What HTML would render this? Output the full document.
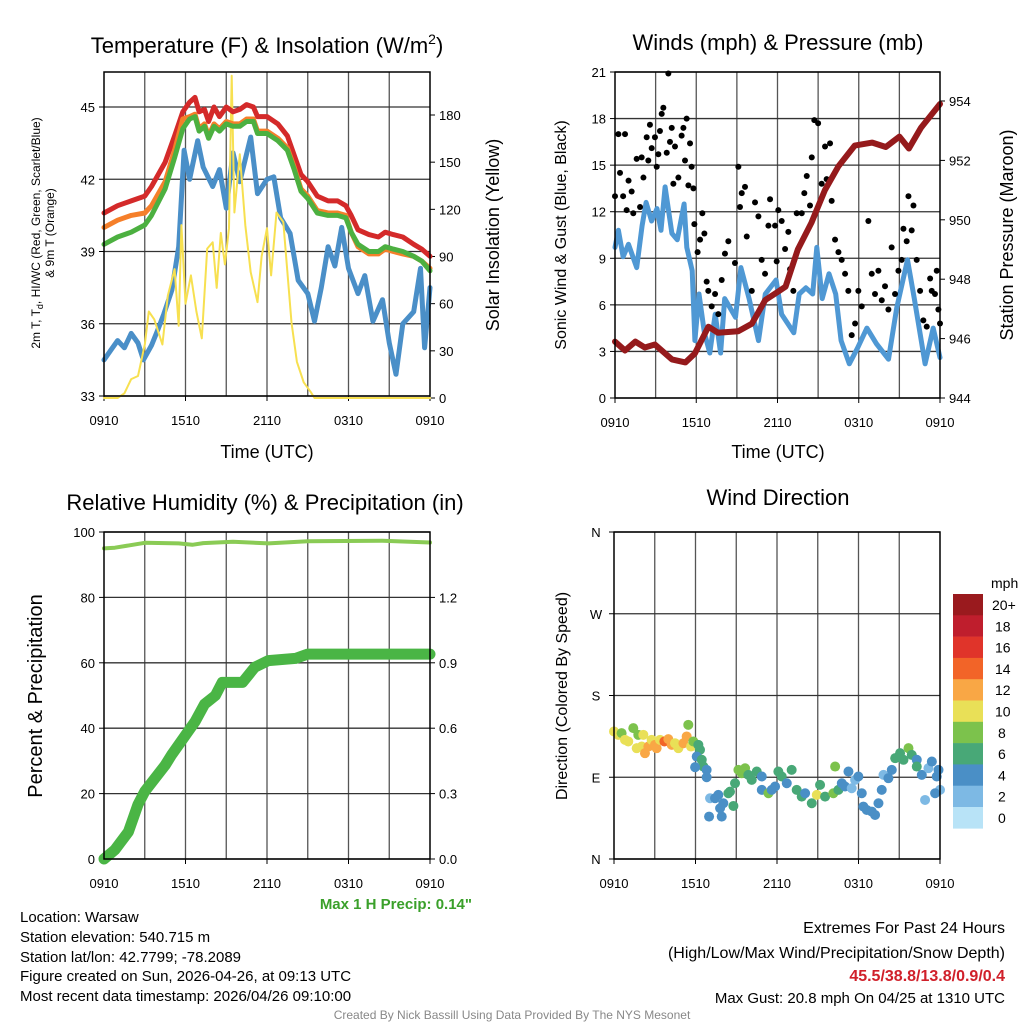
<!DOCTYPE html>
<html><head><meta charset="utf-8">
<style>
html,body{margin:0;padding:0;background:#fff;}
svg{display:block;font-family:"Liberation Sans",Arial,sans-serif;}
</style></head>
<body>
<svg id="chart" width="1024" height="1024" viewBox="0 0 1024 1024" xmlns="http://www.w3.org/2000/svg">
<rect width="1024" height="1024" fill="#fff"/>
<g id="layer"></g>
<!-- titles -->
<text x="267" y="53" font-size="22" text-anchor="middle">Temperature (F) &amp; Insolation (W/m<tspan font-size="14" dy="-9">2</tspan><tspan dy="9">)</tspan></text>
<text x="778" y="50" font-size="22" text-anchor="middle">Winds (mph) &amp; Pressure (mb)</text>
<text x="265" y="510" font-size="22" text-anchor="middle">Relative Humidity (%) &amp; Precipitation (in)</text>
<text x="778" y="505" font-size="22" text-anchor="middle">Wind Direction</text>
<!-- axis titles -->
<text transform="translate(40,233) rotate(-90)" font-size="12" text-anchor="middle">2m T, T<tspan font-size="9" dy="3">d</tspan><tspan dy="-3">, HI/WC (Red, Green, Scarlet/Blue)</tspan></text>
<text transform="translate(54,233) rotate(-90)" font-size="12" text-anchor="middle">&amp; 9m T (Orange)</text>
<text transform="translate(499,235) rotate(-90)" font-size="18" text-anchor="middle">Solar Insolation (Yellow)</text>
<text x="267" y="458" font-size="18" text-anchor="middle">Time (UTC)</text>
<text transform="translate(566,235) rotate(-90)" font-size="16" text-anchor="middle">Sonic Wind &amp; Gust (Blue, Black)</text>
<text transform="translate(1013,235) rotate(-90)" font-size="18" text-anchor="middle">Station Pressure (Maroon)</text>
<text x="778" y="458" font-size="18" text-anchor="middle">Time (UTC)</text>
<text transform="translate(42,696) rotate(-90)" font-size="20" text-anchor="middle">Percent &amp; Precipitation</text>
<text transform="translate(567,696) rotate(-90)" font-size="16" text-anchor="middle">Direction (Colored By Speed)</text>
<text x="991" y="588" font-size="14">mph</text>
<!-- info text -->
<text x="472" y="909" font-size="15" font-weight="bold" fill="#3aa02a" text-anchor="end">Max 1 H Precip: 0.14"</text>
<g font-size="15">
<text x="20" y="922">Location: Warsaw</text>
<text x="20" y="942">Station elevation: 540.715 m</text>
<text x="20" y="962">Station lat/lon: 42.7799; -78.2089</text>
<text x="20" y="981">Figure created on Sun, 2026-04-26, at 09:13 UTC</text>
<text x="20" y="1001">Most recent data timestamp: 2026/04/26 09:10:00</text>
</g>
<g font-size="16" text-anchor="end">
<text x="1005" y="933">Extremes For Past 24 Hours</text>
<text x="1005" y="958">(High/Low/Max Wind/Precipitation/Snow Depth)</text>
<text x="1005" y="981" font-weight="bold" fill="#d0202a">45.5/38.8/13.8/0.9/0.4</text>
<text x="1005" y="1003" font-size="15">Max Gust: 20.8 mph On 04/25 at 1310 UTC</text>
</g>
<text x="512" y="1019" font-size="12" fill="#888" text-anchor="middle">Created By Nick Bassill Using Data Provided By The NYS Mesonet</text>
</svg>
<script>
// ---------- data ----------
const xTickLabels = ["0910","1510","2110","0310","0910"];
const tempHours = [0,1,2,3,3.5,4.5,5.2,5.8,6.3,6.7,7.0,7.4,7.7,8.1,8.5,9.0,9.5,10,10.5,11,11.3,12,12.8,13.5,14,14.5,15,15.7,16.5,17.2,17.8,18.2,18.7,19.5,20.2,20.7,21.3,22,22.8,23.4,24];
const tempRed = [40.6,40.9,41.1,41.3,41.7,42.7,43.8,44.8,45.2,45.4,44.8,44.9,44.4,45.0,44.6,45.0,44.8,44.9,45.1,45.0,44.6,44.6,44.3,43.8,43.0,42.2,41.9,41.3,41.1,41.1,40.9,40.5,39.9,39.7,39.6,39.8,39.7,39.6,39.3,39.1,38.8];
const tempOrange = [40.0,40.3,40.5,40.6,40.9,41.9,43.2,44.5,44.6,44.7,44.1,44.3,43.8,44.3,44.1,44.4,44.3,44.3,44.5,44.5,44.0,44.0,43.7,43.3,42.5,41.6,41.3,40.7,40.6,40.6,40.5,39.8,39.2,38.9,38.9,39.1,39.0,38.9,38.8,38.6,38.3];
const tempGreen = [39.3,39.6,39.8,40.1,40.5,41.6,42.9,44.1,44.5,44.6,44.0,44.2,43.7,44.2,44.0,44.3,44.2,44.2,44.4,44.4,43.9,43.9,43.6,43.2,42.4,41.5,41.2,40.6,40.5,40.5,40.4,39.8,39.3,39.0,39.0,39.2,39.1,39.0,38.8,38.6,38.2];
const dewHours = [0,0.5,1,1.5,2,2.5,2.9,3.5,4.0,4.4,5,5.5,5.9,6.3,6.9,7.3,8,8.5,9,9.5,10,10.8,11.3,12,12.5,13,13.7,14.3,15,15.5,16,16.5,17,17.5,18,18.7,19.2,19.8,20.5,21,21.5,22,22.8,23.3,23.6,24];
const dewBlue = [34.5,34.9,35.3,35.0,35.6,35.2,34.5,35.1,35.8,36.4,37.4,39.2,43.2,42.0,43.6,42.5,41.7,42.4,40.8,43.1,41.9,43.75,41.4,42.0,42.1,40.4,39.75,37.8,37.25,36.1,37.5,39.2,38.4,40.0,38.3,37.25,38.0,36.1,37.0,35.2,33.9,36.0,36.5,38.3,35.0,37.5];
const solarHours = [0,1,1.5,2,2.5,3,3.3,3.7,4.3,4.7,5.2,5.5,5.7,6,6.4,6.8,7.2,7.6,8,8.3,8.6,8.9,9.2,9.4,9.6,10,10.4,10.8,11.3,11.6,12,12.3,12.7,13.2,13.5,13.8,14.2,14.7,15.2,15.5,24];
const solarW = [0,0,3,12,14,34,55,50,34,65,82,46,110,60,78,55,38,95,99,70,105,85,108,205,118,155,110,80,61,90,108,78,118,112,80,48,23,10,4,0,0];
const windHours = [0,0.25,0.6,1.0,1.6,2.0,2.3,2.7,3.1,3.4,3.7,4.2,4.6,5.1,5.3,5.7,5.9,6.2,6.6,7.0,7.4,7.8,8.1,8.9,9.3,9.9,10.6,11.1,11.9,12.3,13.2,13.6,14.1,14.6,14.9,15.3,15.8,16.3,16.7,17.3,17.9,18.6,19.3,20.2,20.8,21.6,22.1,22.9,23.5,24];
const windSonic = [9.7,10.8,9.1,9.9,8.4,11.1,12.6,11.4,12.2,10.8,13.6,10.6,10.2,12.5,9.7,8.2,3.7,6.7,4.2,2.9,5.4,2.9,6.4,5.2,8.4,6.4,3.7,6.7,7.6,5.4,4.2,6.7,7.1,6.7,9.7,6.4,8.0,6.7,3.7,2.2,3.2,4.5,3.5,2.5,5.8,8.9,6.4,2.2,4.5,2.6];
const gustHours = [0,0.25,0.37,0.6,0.74,0.86,1.0,1.23,1.35,1.6,1.85,1.97,2.1,2.34,2.46,2.58,2.71,2.95,3.08,3.2,3.32,3.45,3.57,3.82,3.94,4.06,4.19,4.31,4.43,4.68,4.92,5.05,5.17,5.29,5.42,5.54,5.66,5.79,5.86,6.1,6.28,6.45,6.6,6.77,6.89,7.14,7.39,7.63,7.88,8.12,8.37,8.86,9.11,9.23,9.36,9.6,9.73,10.1,10.34,10.59,10.83,11.08,11.33,11.45,11.82,11.94,12.06,12.31,12.56,12.8,12.93,13.17,13.42,13.79,13.98,14.16,14.4,14.53,14.72,15.0,15.26,15.51,15.63,15.88,16.0,16.25,16.5,16.74,16.99,17.23,17.48,17.73,17.97,18.22,18.71,18.96,19.2,19.45,19.7,19.94,20.19,20.43,20.68,20.93,21.17,21.3,21.54,21.67,21.91,22.04,22.28,22.53,22.77,23.02,23.27,23.39,23.63,23.76,23.88,24.0];
const gustMph = [13.0,17.0,14.5,13.0,17.0,12.1,14.0,13.3,11.9,15.4,12.3,15.5,14.2,16.8,15.3,17.6,16.1,16.8,14.9,15.7,17.2,18.3,18.7,15.8,20.9,16.5,17.4,13.8,16.2,14.2,16.9,17.4,15.3,18.0,13.7,16.4,14.9,13.5,11.2,9.4,10.2,11.9,10.6,7.5,6.9,5.9,6.7,5.4,7.6,9.3,10.1,8.7,14.9,12.3,13.2,13.6,10.4,6.9,12.6,11.7,8.9,8.0,11.1,12.8,11.1,8.8,12.1,11.4,9.6,10.7,8.3,6.9,11.9,11.9,13.2,14.3,12.4,15.5,17.9,17.7,13.8,16.2,14.1,16.4,12.7,10.2,9.4,8.9,8.0,6.9,4.05,4.8,6.9,5.9,11.4,8.0,6.7,8.2,6.3,7.2,5.7,9.7,6.7,8.2,8.9,10.9,10.1,13.0,10.8,12.4,8.9,6.9,5.0,4.6,7.7,6.9,6.7,8.2,5.7,4.8];
const presHours = [0,0.74,1.5,2.2,2.95,4.2,5.2,5.9,6.9,7.6,9.1,10.1,11.1,12.1,12.6,13.5,14.5,15.5,16.5,17.7,19.0,20.0,21.0,21.7,22.6,24];
const presMb = [945.9,945.6,945.9,945.7,945.8,945.3,945.2,945.5,946.4,946.2,946.25,946.5,947.3,947.6,947.75,949.0,949.9,951.0,951.8,952.5,952.6,952.45,952.8,952.4,953.1,953.9];
const rhHours = [0,0.8,3.0,5.5,6.5,7.3,9.5,12.1,15,20.5,24];
const rhPct = [95.0,95.2,96.7,96.5,96.1,96.6,97.0,96.5,97.2,97.3,96.8];
const precipHours = [0,0.8,1.8,2.5,3.0,4.5,5.0,6.7,7.4,8.2,8.7,10.2,11.1,12.1,14.1,15,24];
const precipIn = [0,0.042,0.125,0.25,0.31,0.43,0.48,0.63,0.71,0.75,0.81,0.81,0.88,0.91,0.92,0.94,0.94];
const dirHours = [0,0.32,0.56,0.81,1.05,1.42,1.67,1.79,2.04,2.16,2.28,2.53,2.77,3.02,3.14,3.39,3.71,4.0,4.25,4.49,4.74,5.11,5.35,5.47,5.67,5.84,6.21,6.33,6.09,6.46,6.58,5.97,6.82,6.82,7.07,7.44,7.68,7.0,7.93,7.81,8.05,8.42,8.54,8.79,8.91,9.16,9.4,9.65,9.89,10.14,10.51,10.88,10.88,11.37,11.61,11.86,12.1,12.35,12.72,13.08,13.45,13.82,14.07,14.56,14.93,15.17,15.54,16.15,16.28,16.52,16.77,17.01,17.26,17.5,17.75,17.99,18.24,18.36,18.61,18.98,19.22,19.47,19.71,19.84,20.2,20.45,20.7,21.06,21.31,21.68,21.92,22.29,22.29,22.66,22.9,23.15,23.4,23.76,23.89,24,23.64];
const dirDeg = [140.4,136.7,138.6,131.2,129.4,144.1,122.0,136.7,123.8,136.7,116.5,123.8,131.2,125.7,122.0,131.2,129.4,132.0,125.7,127.5,122.0,127.5,134.9,147.7,123.8,129.4,125.7,120.2,112.8,109.2,101.8,101.1,98.1,90.0,66.9,66.9,70.6,46.7,46.7,55.9,61.4,72.4,74.2,58.4,83.4,98.1,94.4,99.9,92.6,87.1,96.3,90.8,76.1,72.4,76.1,79.8,96.3,90.8,83.4,98.1,76.1,68.7,72.4,61.4,70.6,81.6,68.7,72.4,101.8,76.1,83.4,79.8,96.3,77.9,87.1,90.8,72.4,57.7,54.0,52.2,48.5,61.4,76.1,92.6,89.0,98.1,111.0,116.5,109.2,122.0,114.6,109.2,101.8,92.6,65.0,100.0,107.3,90.8,98.1,76.1,72.4];
const dirSpeed = [10,10,8,10,10,8,10,8,10,10,12,12,10,12,12,10,14,12,12,10,10,12,12,8,10,8,6,6,4,6,6,4,4,4,2,4,4,4,4,4,4,6,6,6,6,8,8,8,6,6,6,4,4,8,4,4,6,6,4,6,6,6,4,6,10,6,6,8,8,6,4,4,4,2,2,4,4,4,4,4,4,4,4,2,4,4,6,6,6,8,6,4,6,4,2,2,4,4,4,2,4];
const speedBins = [20,18,16,14,12,10,8,6,4,2,0];
const speedLabels = ["20+","18","16","14","12","10","8","6","4","2","0"];
const speedColors = ["#9a1a1e","#bf1e2d","#e0342a","#f26428","#f9a745","#e9e057","#7cc24c","#48a877","#4a8fc6","#7db9e4","#b8e3f7"];

// ---------- helpers ----------
const NS = "http://www.w3.org/2000/svg";
const layer = document.getElementById("layer");
function mk(tag, attrs, parent) {
  const e = document.createElementNS(NS, tag);
  for (const k in attrs) e.setAttribute(k, attrs[k]);
  (parent || layer).appendChild(e);
  return e;
}
function lin(d0, d1, r0, r1) { return v => r0 + (v - d0) * (r1 - r0) / (d1 - d0); }

const panels = {
  temp: {x0:104, x1:430, y0:72, y1:396},
  wind: {x0:615, x1:940, y0:72, y1:398},
  rh:   {x0:104, x1:430, y0:532, y1:859},
  dir:  {x0:614, x1:940, y0:532, y1:859}
};
function xScale(p) { return lin(0, 24, p.x0, p.x1); }

function frame(p, name) {
  const g = mk("g", {});
  
  
  const xs = xScale(p);
  for (let h = 3; h < 24; h += 3) {
    mk("line", {x1:xs(h), x2:xs(h), y1:p.y0, y2:p.y1, stroke:"#555", "stroke-width":1.3}, g);
  }
  for (let i = 0; i < xTickLabels.length; i++) {
    const h = i * 6;
    mk("line", {x1:xs(h), x2:xs(h), y1:p.y1, y2:p.y1 + 5, stroke:"#000"}, g);
    const t = mk("text", {x:xs(h), y:p.y1 + 29, "font-size":13, "text-anchor":"middle"}, g);
    t.textContent = xTickLabels[i];
    
    
  }
  return g;
}
function hline(p, y, g) { mk("line", {x1:p.x0, x2:p.x1, y1:y, y2:y, stroke:"#333", "stroke-width":1.3}, g); }
function yTicks(p, vals, sc, side, fmt, name, grid) {
  const g = mk("g", {});
  
  
  vals.forEach(v => {
    const y = sc(v);
    if (grid) hline(p, y, g);
    const x = side === "left" ? p.x0 : p.x1;
    const d = side === "left" ? -5 : 5;
    mk("line", {x1:x, x2:x + d, y1:y, y2:y, stroke:"#000"}, g);
    const t = mk("text", {x: x + (side === "left" ? -9 : 9), y: y + 5, "font-size":13, "text-anchor": side === "left" ? "end" : "start"}, g);
    t.textContent = fmt(v);
  });
}
function border(p) {
  mk("rect", {x:p.x0, y:p.y0, width:p.x1 - p.x0, height:p.y1 - p.y0, fill:"none", stroke:"#000", "stroke-width":1.5});
}
function pathOf(hs, vs, xs, ys) {
  return hs.map((h, i) => (i ? "L" : "M") + xs(h).toFixed(1) + "," + ys(vs[i]).toFixed(1)).join(" ");
}
function line(hs, vs, xs, ys, color, w, name) {
  const e = mk("path", {d:pathOf(hs, vs, xs, ys), fill:"none", stroke:color, "stroke-width":w, "stroke-linejoin":"round", "stroke-linecap":"round"});
  
  
  return e;
}

// ---------- panel 1: temperature ----------
(function () {
  const p = panels.temp, xs = xScale(p);
  const yT = lin(33, 45, 396, 107);
  const yS = lin(0, 180, 398, 115);
  frame(p, "temp");
  yTicks(p, [33,36,39,42,45], yT, "left", v => v, "temp-y-ticks", true);
  yTicks(p, [0,30,60,90,120,150,180], yS, "right", v => v, "solar-y-ticks", false);
  const cy = v => Math.max(p.y0, yS(v));
  line(dewHours, dewBlue, xs, yT, "#4a8fc8", 5, "dewpoint-line");
  line(solarHours, solarW, xs, cy, "#f7e050", 2, "solar-line");
  line(tempHours, tempRed, xs, yT, "#d42a2a", 5, "temperature-line");
  line(tempHours, tempOrange, xs, yT, "#f57f2a", 5, "temp-9m-line");
  line(tempHours, tempGreen, xs, yT, "#4cb040", 5, "heat-index-line");
  border(p);
})();

// ---------- panel 2: winds ----------
(function () {
  const p = panels.wind, xs = xScale(p);
  const yW = lin(0, 21, 398, 72);
  const yP = lin(944, 954, 398, 101);
  frame(p, "wind");
  yTicks(p, [0,3,6,9,12,15,18,21], yW, "left", v => v, "wind-y-ticks", true);
  yTicks(p, [944,946,948,950,952,954], yP, "right", v => v, "pressure-y-ticks", false);
  line(windHours, windSonic, xs, yW, "#4f98d4", 5, "sonic-wind-line");
  const g = mk("g", {});
  
  
  gustHours.forEach((h, i) => {
    const c = mk("circle", {cx:xs(h), cy:yW(gustMph[i]), r:3, fill:"#000"}, g);
    
    
  });
  line(presHours, presMb, xs, yP, "#951a1c", 6, "pressure-line");
  border(p);
})();

// ---------- panel 3: RH & precip ----------
(function () {
  const p = panels.rh, xs = xScale(p);
  const yR = lin(0, 100, 859, 532);
  const yI = lin(0, 1.5, 859, 532);
  frame(p, "rh");
  yTicks(p, [0,20,40,60,80,100], yR, "left", v => v, "rh-y-ticks", true);
  yTicks(p, [0,0.3,0.6,0.9,1.2], yI, "right", v => v.toFixed(1), "precip-y-ticks", false);
  line(rhHours, rhPct, xs, yR, "#8acb55", 4, "rh-line");
  line(precipHours, precipIn, xs, yI, "#4ab545", 11, "precip-line");
  border(p);
})();

// ---------- panel 4: direction ----------
(function () {
  const p = panels.dir, xs = xScale(p);
  const yD = lin(0, 360, 859, 532);
  frame(p, "dir");
  const labs = ["N","E","S","W","N"];
  const g = mk("g", {});
  
  
  labs.forEach((l, i) => {
    const y = yD(i * 90);
    hline(p, y, g);
    mk("line", {x1:p.x0, x2:p.x0 - 5, y1:y, y2:y, stroke:"#000"}, g);
    const t = mk("text", {x:p.x0 - 18, y:y + 5, "font-size":13, "text-anchor":"middle"}, g);
    t.textContent = l;
  });
  const colorFor = s => { for (let i = 0; i < speedBins.length; i++) if (s >= speedBins[i]) return speedColors[i]; return speedColors[speedColors.length - 1]; };
  const dg = mk("g", {});
  
  
  dirHours.forEach((h, i) => {
    const c = mk("circle", {cx:xs(h), cy:yD(dirDeg[i]), r:5, fill:colorFor(dirSpeed[i])}, dg);
    
    
  });
  border(p);
  // colorbar
  const cb = mk("g", {});
  
  
  const bh = 21.3;
  speedColors.forEach((c, i) => {
    const r = mk("rect", {x:953, y:594 + i * bh, width:30, height:bh + 0.3, fill:c}, cb);
    
    
    const t = mk("text", {x:992 + (speedLabels[i].length < 2 ? 6 : (speedLabels[i].length < 3 ? 3 : 0)), y:594 + i * bh + 16, "font-size":14}, cb);
    t.textContent = speedLabels[i];
  });
})();
</script>
</body></html>
